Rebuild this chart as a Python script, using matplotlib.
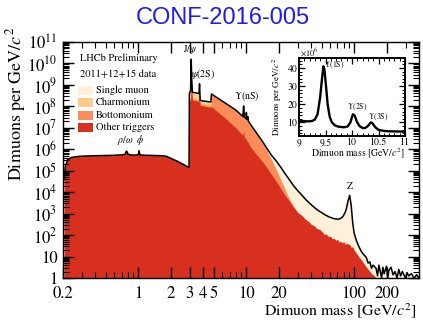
import numpy as np
import matplotlib
matplotlib.use("Agg")
import matplotlib.pyplot as plt
from matplotlib.patches import Rectangle
from matplotlib.ticker import LogLocator, NullFormatter, FixedLocator, MultipleLocator

plt.rcParams["font.family"] = ["STIXGeneral", "DejaVu Serif"]
plt.rcParams["mathtext.fontset"] = "stix"

# ---- dimuon spectrum: stacked layer tops, log10(dimuons per GeV/c^2) ----
mass = [0.205, 0.21, 0.22, 0.24, 0.27, 0.30, 0.35, 0.40, 0.50, 0.60, 0.70, 0.75,
        0.775, 0.79, 0.80, 0.85, 0.90, 0.95, 1.00, 1.015, 1.03, 1.05, 1.2, 1.4,
        1.6, 1.8, 2.0, 2.3, 2.6, 2.95,
        2.97, 3.05, 3.09, 3.12, 3.17, 3.3, 3.5, 3.65, 3.69, 3.74, 4.0, 4.4, 4.7,
        4.75, 5.5, 6.5, 8.0, 9.3, 9.46, 9.6, 10.0, 10.03, 10.1, 10.36, 10.45,
        11.0, 12.5, 14.0, 15.5, 17.0, 19.0, 21.0, 23.0, 25.0, 27.0, 30.0, 33.0,
        35.0, 38.0, 40.0, 43.0, 45.0, 48.0, 50.0, 53.0, 55.0, 58.0, 60.0, 63.0,
        65.0, 68.0, 70.0, 73.0, 75.0, 78.0, 80.0, 83.0, 85.0, 88.0, 91.0, 94.0,
        97.0, 100.0, 105.0, 110.0, 115.0, 120.0, 125.0, 130.0, 135.0, 140.0,
        145.0, 150.0, 160.0, 165.0, 170.0, 175.0, 180.0, 185.0, 190.0, 200.0,
        205.0, 210.0, 220.0, 230.0, 240.0, 250.0, 260.0, 270.0, 280.0, 300.0,
        310.0, 320.0, 340.0, 360.0, 380.0, 400.0]

other_triggers = [4.6, 5.2, 5.5, 5.62, 5.66, 5.68, 5.69, 5.70, 5.71, 5.72, 5.74, 5.76,
                  5.92, 5.86, 5.77, 5.74, 5.73, 5.73, 5.75, 5.93, 5.76, 5.73, 5.72, 5.71,
                  5.70, 5.68, 5.58, 5.44, 5.30, 5.15,
                  8.25, 8.30, 9.20, 8.85, 8.30, 8.28, 8.25, 8.22, 8.50, 8.05, 8.02, 7.98, 7.95,
                  8.00, 7.72, 7.42, 7.00, 6.65, 6.90, 6.55, 6.45, 6.60, 6.40, 6.35, 6.30,
                  6.10, 5.75, 5.45, 5.15, 4.85, 4.50, 4.15, 3.85, 3.60, 3.35, 3.05, 2.90,
                  2.75, 2.62, 2.50, 2.42, 2.30, 2.26, 2.18, 2.02, 2.05, 1.92, 1.95, 1.82,
                  1.85, 1.74, 1.80, 1.66, 1.72, 1.62, 1.70, 1.55, 1.62, 1.58, 1.55, 1.42,
                  1.45, 1.30, 1.15, 1.00, 0.88, 0.75, 0.62, 0.50, 0.40, 0.30,
                  0.20, 0.15, 0.0, -1, -1, -1, -1, -1, -1, -1,
                  -1, -1, -1, -1, -1, -1, -1, -1, -1, -1,
                  -1, -1, -1, -1, -1, -1]

with_bottomonium = [4.6, 5.2, 5.5, 5.62, 5.66, 5.68, 5.69, 5.70, 5.71, 5.72, 5.74, 5.76,
                    5.92, 5.86, 5.77, 5.74, 5.73, 5.73, 5.75, 5.93, 5.76, 5.73, 5.72, 5.71,
                    5.70, 5.68, 5.58, 5.44, 5.30, 5.15,
                    8.33, 8.36, 9.25, 8.90, 8.36, 8.34, 8.32, 8.30, 8.55, 8.12, 8.10, 8.07, 8.05,
                    8.55, 8.36, 8.12, 7.82, 7.52, 8.00, 7.48, 7.42, 7.70, 7.38, 7.50, 7.30,
                    7.12, 6.70, 6.30, 5.95, 5.55, 5.05, 4.55, 4.10, 3.70, 3.40, 3.05, 2.90,
                    2.75, 2.62, 2.50, 2.42, 2.30, 2.26, 2.18, 2.02, 2.05, 1.92, 1.95, 1.82,
                    1.85, 1.74, 1.80, 1.66, 1.72, 1.62, 1.70, 1.55, 1.62, 1.58, 1.55, 1.42,
                    1.45, 1.30, 1.15, 1.00, 0.88, 0.75, 0.62, 0.50, 0.40, 0.30,
                    0.20, 0.15, 0.0, -1, -1, -1, -1, -1, -1, -1,
                    -1, -1, -1, -1, -1, -1, -1, -1, -1, -1,
                    -1, -1, -1, -1, -1, -1]

with_charmonium = [4.6, 5.2, 5.5, 5.62, 5.66, 5.68, 5.69, 5.70, 5.71, 5.72, 5.74, 5.76,
                   5.92, 5.86, 5.77, 5.74, 5.73, 5.73, 5.75, 5.93, 5.76, 5.73, 5.72, 5.71,
                   5.70, 5.68, 5.58, 5.44, 5.30, 5.15,
                   8.55, 8.70, 10.10, 9.20, 8.62, 8.60, 8.58, 8.56, 9.00, 8.25, 8.22, 8.18, 8.16,
                   8.56, 8.36, 8.12, 7.82, 7.52, 8.00, 7.48, 7.42, 7.70, 7.38, 7.50, 7.30,
                   7.12, 6.70, 6.30, 5.95, 5.55, 5.05, 4.55, 4.10, 3.70, 3.40, 3.05, 2.90,
                   2.75, 2.62, 2.50, 2.42, 2.30, 2.26, 2.18, 2.02, 2.05, 1.92, 1.95, 1.82,
                   1.85, 1.74, 1.80, 1.66, 1.72, 1.62, 1.70, 1.55, 1.62, 1.58, 1.55, 1.42,
                   1.45, 1.30, 1.15, 1.00, 0.88, 0.75, 0.62, 0.50, 0.40, 0.30,
                   0.20, 0.15, 0.0, -1, -1, -1, -1, -1, -1, -1,
                   -1, -1, -1, -1, -1, -1, -1, -1, -1, -1,
                   -1, -1, -1, -1, -1, -1]

all_triggers = [4.6, 5.2, 5.5, 5.62, 5.66, 5.68, 5.69, 5.70, 5.71, 5.72, 5.74, 5.76,
                5.92, 5.86, 5.77, 5.74, 5.73, 5.73, 5.75, 5.93, 5.76, 5.73, 5.72, 5.71,
                5.70, 5.68, 5.58, 5.44, 5.30, 5.15,
                8.58, 8.75, 10.20, 9.30, 8.66, 8.64, 8.62, 8.60, 9.05, 8.28, 8.25, 8.22, 8.20,
                8.58, 8.37, 8.13, 7.83, 7.53, 8.02, 7.49, 7.43, 7.72, 7.40, 7.52, 7.32,
                7.15, 6.75, 6.40, 6.05, 5.75, 5.45, 5.15, 4.85, 4.60, 4.35, 4.07, 3.85,
                3.70, 3.52, 3.42, 3.28, 3.20, 3.10, 3.05, 2.96, 2.92, 2.86, 2.83, 2.79,
                2.77, 2.75, 2.74, 2.75, 2.78, 2.84, 2.92, 3.08, 3.25, 3.60, 3.85, 3.40,
                2.60, 2.10, 1.75, 1.50, 1.30, 1.15, 1.05, 0.95, 0.70, 0.75,
                0.45, 0.60, 0.45, 0.10, 0.60, 0.30, 0.00, 0.50, 0.20, 0.55,
                0.00, 0.35, 0.50, 0.15, 0.30, 0.00, 0.40, 0.10, 0.30, 0.00,
                0.25, 0.10, 0.20, 0.00, 0.15, 0.00]

# ---- Upsilon region (inset), dimuons per GeV/c^2 in units of 10^6 ----
ups_mass = [9.00, 9.05, 9.10, 9.15, 9.20, 9.25, 9.30, 9.35, 9.40, 9.43, 9.46, 9.48,
            9.51, 9.54, 9.58, 9.62, 9.68, 9.75, 9.85, 9.92, 9.97, 10.00, 10.02, 10.05,
            10.09, 10.14, 10.20, 10.25, 10.30, 10.34, 10.36, 10.39, 10.44, 10.50,
            10.60, 10.70, 10.85, 11.00]
ups_counts = [10.9, 10.8, 10.7, 10.6, 10.6, 10.8, 11.6, 14.5, 24.0, 33.0, 40.9, 39.0,
              30.0, 20.0, 13.0, 10.0, 8.3, 7.6, 7.3, 7.8, 10.0, 13.0, 14.5, 13.8,
              10.5, 8.0, 6.9, 6.9, 8.0, 9.5, 10.0, 9.4, 7.3, 5.9,
              5.3, 5.1, 5.0, 4.9]

layer_names = ["Single muon", "Charmonium", "Bottomonium", "Other triggers"]
layer_colors = ["#fef0d9", "#fdcc8a", "#fc8d59", "#d7301f"]

x_ticks = [0.2, 1, 2, 3, 4, 5, 10, 20, 100, 200]
x_tick_labels = ["0.2", "1", "2", "3", "4", "5", "10", "20", "100", "200"]
y_ticks = [10.0 ** k for k in range(12)]
y_tick_labels = ["1", "10"] + [r"$10^{%d}$" % k for k in range(2, 12)]

W, H = 423, 321
fig = plt.figure(figsize=(W / 100, H / 100), dpi=100)


def fx(px):
    return px / W


def fy(py):
    return 1 - py / H


def axes_box(left, top, right, bottom):
    return [fx(left), fy(bottom), fx(right) - fx(left), fy(top) - fy(bottom)]


ax = fig.add_axes(axes_box(63, 42, 419, 278))

m = np.array(mass)
tops = [np.array(all_triggers), np.array(with_charmonium),
        np.array(with_bottomonium), np.array(other_triggers)]
for top, col in zip(tops, layer_colors):
    ax.fill_between(m, 0.1, 10.0 ** top, color=col, lw=0)
ax.plot(m, 10.0 ** tops[0], color="black", lw=1.1)

ax.set_xscale("log")
ax.set_yscale("log")
ax.set_xlim(0.2, 400)
ax.set_ylim(1, 1e11)
ax.xaxis.set_major_locator(FixedLocator(x_ticks))
ax.set_xticklabels(x_tick_labels)
ax.xaxis.set_minor_locator(LogLocator(base=10, subs=np.arange(2, 10), numticks=20))
ax.xaxis.set_minor_formatter(NullFormatter())
ax.yaxis.set_major_locator(FixedLocator(y_ticks))
ax.set_yticklabels(y_tick_labels)
ax.yaxis.set_minor_locator(LogLocator(base=10, subs=np.arange(2, 10), numticks=20))
ax.yaxis.set_minor_formatter(NullFormatter())
ax.tick_params(which="both", direction="in", top=True, right=True, labelsize=12)
ax.tick_params(which="major", length=8, width=1, pad=4)
ax.tick_params(axis="x", which="major", pad=5.5)
ax.tick_params(which="minor", length=4, width=0.8)
for sp in ax.spines.values():
    sp.set_linewidth(1.0)

# resonance labels
peak_kw = dict(fontsize=7, ha="center", va="bottom")
ax.text(0.76, 10 ** 6.1, r"$\rho/\omega$", **peak_kw)
ax.text(1.04, 10 ** 6.1, r"$\phi$", **peak_kw)
ax.text(3.02, 10 ** 10.35, r"J/$\psi$", **peak_kw)
ax.text(4.0, 10 ** 9.2, r"$\psi$(2S)", **peak_kw)
ax.text(10.2, 10 ** 8.15, r"$\Upsilon$(nS)", **peak_kw)
ax.text(91, 10 ** 4.05, "Z", **peak_kw)

# header text and legend
fig.text(fx(80), fy(58), "LHCb Preliminary", fontsize=7.5, va="center")
fig.text(fx(80), fy(74), "2011+12+15 data", fontsize=7.5, va="center")
row_y = [90, 102.5, 115, 127.5]
for name, col, ry in zip(layer_names, layer_colors, row_y):
    fig.patches.append(Rectangle((fx(78), fy(ry + 4.5)), fx(93) - fx(78),
                                 fy(ry - 4.5) - fy(ry + 4.5),
                                 transform=fig.transFigure, color=col, lw=0))
    fig.text(fx(96), fy(ry), name, fontsize=7.5, va="center")

# axis titles
fig.text(fx(16), fy(27), r"Dimuons per GeV/$c^2$", fontsize=13,
         rotation=90, ha="center", va="top")
fig.text(fx(417), fy(311), r"Dimuon mass [GeV/$c^2$]", fontsize=11.5,
         ha="right", va="center")

fig.text(fx(223), fy(17.5), "CONF-2016-005", fontsize=17, color="#1c1cf0",
         family="Liberation Sans", ha="center", va="center")

# ---- inset ----
ins = fig.add_axes(axes_box(299, 58, 405, 136))
ins.plot(ups_mass, ups_counts, color="black", lw=1.7)
ins.set_xlim(9, 11)
ins.set_ylim(2.5, 45.5)
ins.xaxis.set_major_locator(FixedLocator([9, 9.5, 10, 10.5, 11]))
ins.set_xticklabels(["9", "9.5", "10", "10.5", "11"])
ins.xaxis.set_minor_locator(MultipleLocator(0.1))
ins.yaxis.set_major_locator(FixedLocator([10, 20, 30, 40]))
ins.set_yticklabels(["10", "20", "30", "40"])
ins.yaxis.set_minor_locator(MultipleLocator(2))
ins.tick_params(which="both", direction="in", top=True, right=True, labelsize=7)
ins.tick_params(which="major", length=4, width=0.9, pad=1)
ins.tick_params(which="minor", length=2, width=0.7)
for sp in ins.spines.values():
    sp.set_linewidth(1.4)
ins.text(9.47, 41.5, r"$\Upsilon$(1S)", fontsize=5.5, ha="left", va="center")
ins.text(10.1, 18.2, r"$\Upsilon$(2S)", fontsize=5.5, ha="center", va="center")
ins.text(10.5, 12.7, r"$\Upsilon$(3S)", fontsize=5.5, ha="center", va="center")

fig.text(fx(300), fy(52), r"$\times10^{6}$", fontsize=6, ha="left", va="center")
fig.text(fx(277), fy(58), r"Dimuons per GeV/$c^2$", fontsize=6.5,
         rotation=90, ha="center", va="top")
fig.text(fx(405), fy(154), r"Dimuon mass [GeV/$c^2$]", fontsize=7,
         ha="right", va="center")

fig.savefig("out.png", dpi=100)
